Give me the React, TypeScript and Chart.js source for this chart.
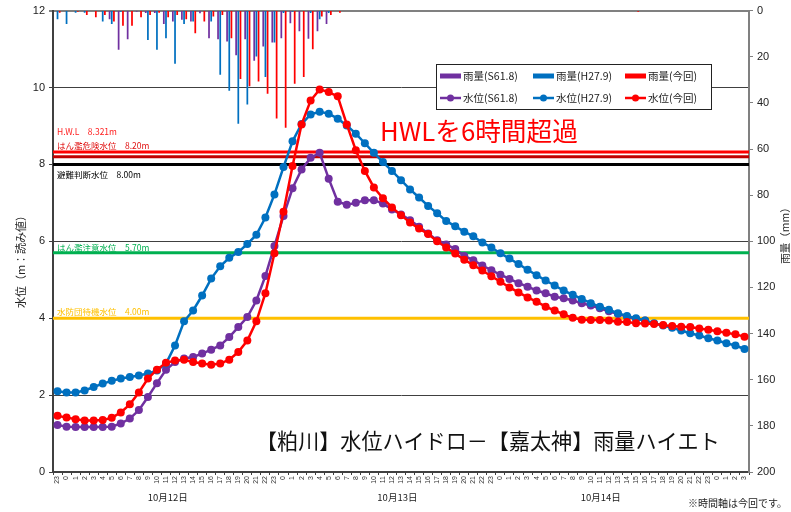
import { useEffect, useRef } from 'react';
import { Chart, registerables } from 'chart.js';

Chart.register(...registerables);

// ---------- data ----------
const hourLabels: string[] = [
  '23',
  ...Array.from({ length: 24 }, (_, h) => String(h)),
  ...Array.from({ length: 24 }, (_, h) => String(h)),
  ...Array.from({ length: 24 }, (_, h) => String(h)),
  '0', '1', '2', '3',
];

const dateLabels = ['10月12日', '10月13日', '10月14日'];
const dateLabelIndex = [12.2, 37.6, 60.1];

const seriesNames = ['S61.8', 'H27.9', '今回'];
const seriesColors = ['#7030A0', '#0070C0', '#FF0000'];

// water level (m)
const levelS61: (number | null)[] = [
  1.22, 1.18, 1.17, 1.17, 1.17, 1.17, 1.18, 1.26, 1.39, 1.61, 1.95, 2.31, 2.66, 2.86, 2.95, 2.99,
  3.08, 3.18, 3.29, 3.51, 3.77, 4.03, 4.46, 5.1, 5.88, 6.66, 7.38, 7.87, 8.17, 8.3, 7.63, 7.03,
  6.95, 7.0, 7.07, 7.07, 6.98, 6.83, 6.7, 6.55, 6.38, 6.2, 6.03, 5.92, 5.8, 5.62, 5.51, 5.37,
  5.25, 5.13, 5.02, 4.91, 4.82, 4.72, 4.65, 4.56, 4.52, 4.46, 4.39, 4.33, 4.26, 4.18, 4.11, 4.04,
  3.98, 3.94, null, null, null, null, null, null, null, null, null, null, null,
];
const levelH27: number[] = [
  2.1, 2.07, 2.07, 2.12, 2.21, 2.3, 2.37, 2.43, 2.47, 2.51, 2.56, 2.64, 2.82, 3.29, 3.92, 4.2,
  4.59, 5.03, 5.35, 5.57, 5.72, 5.93, 6.17, 6.62, 7.22, 7.93, 8.6, 9.05, 9.3, 9.37, 9.32, 9.19,
  9.01, 8.8, 8.55, 8.3, 8.06, 7.83, 7.59, 7.35, 7.14, 6.92, 6.73, 6.53, 6.39, 6.25, 6.13, 5.97,
  5.84, 5.69, 5.55, 5.41, 5.26, 5.12, 4.98, 4.85, 4.72, 4.61, 4.5, 4.39, 4.3, 4.22, 4.13, 4.06,
  4.0, 3.94, 3.87, 3.81, 3.75, 3.68, 3.61, 3.55, 3.48, 3.42, 3.35, 3.29, 3.2,
];
const levelNow: number[] = [
  1.46, 1.42, 1.37, 1.34, 1.34, 1.35, 1.41, 1.55, 1.76, 2.07, 2.43, 2.66, 2.84, 2.9, 2.92, 2.86,
  2.82, 2.79, 2.82, 2.92, 3.12, 3.42, 3.92, 4.65, 5.69, 6.77, 7.96, 9.04, 9.66, 9.95, 9.88, 9.77,
  9.04, 8.37, 7.83, 7.4, 7.12, 6.88, 6.68, 6.49, 6.33, 6.19, 6.0, 5.84, 5.68, 5.52, 5.38, 5.24,
  5.09, 4.95, 4.8, 4.67, 4.54, 4.43, 4.3, 4.2, 4.1, 4.01, 3.96, 3.95, 3.95, 3.94, 3.91, 3.9,
  3.87, 3.86, 3.85, 3.82, 3.8, 3.78, 3.77, 3.73, 3.7, 3.66, 3.62, 3.58, 3.52,
];

// rainfall (mm)
const rainS61: number[] = [
  0, 0, 0, 0, 0, 0, 3.7, 17, 12.4, 0.5, 1, 1, 5.8, 4.75, 4, 4.75,
  1.2, 12, 12.4, 13.4, 19.4, 12.4, 21.7, 15.6, 13.8, 12, 5.5, 9, 12.2, 9, 5.8, 0,
  0, 0, 0, 0, 0, 0, 0, 0, 0, 0, 0, 0, 0, 0, 0, 0,
  0, 0, 0, 0, 0, 0, 0, 0, 0, 0, 0, 0, 0, 0, 0, 0,
  0, 0, 0, 0, 0, 0, 0, 0, 0, 0, 0, 0, 0,
];
const rainH27: number[] = [
  3.7, 5.8, 0.9, 0.9, 0, 4.75, 5.8, 0.5, 0, 0, 12.7, 17, 12, 23, 5.8, 4.75,
  0, 4.75, 27.8, 34.7, 49, 40.7, 19.9, 28.8, 13.8, 1, 0.5, 0, 1, 3.7, 1, 0,
  0, 0, 0, 0, 0, 0, 0, 0, 0, 0, 0, 0, 0, 0, 0, 0,
  0, 0, 0, 0, 0, 0, 0, 0, 0, 0, 0, 0, 0, 0, 0, 0,
  0, 0, 0, 0, 0, 0, 0, 0, 0, 0, 0, 0, 0,
];
const rainNow: number[] = [
  0.9, 0, 0.5, 1.9, 2.9, 1.9, 4.75, 6.6, 6.6, 2.9, 1.9, 0.9, 2.9, 1.9, 3.7, 9.8,
  4.75, 2.6, 1.9, 12, 29.7, 32.8, 30.7, 36, 46.8, 50.8, 31.7, 28.8, 16.7, 2.6, 1.9, 0.9,
  0, 0, 0, 0, 0, 0, 0, 0, 0, 0, 0, 0, 0, 0, 0, 0,
  0, 0, 0, 0, 0, 0, 0, 0, 0, 0, 0, 0, 0, 0, 0, 0,
  0.5, 0, 0, 0, 0, 0, 0, 0, 0, 0, 0, 0, 0,
];

// reference levels
const thresholdValues = [8.321, 8.2, 8.0, 5.7, 4.0];
const thresholdLabels = ['H.W.L　8.321m', 'はん濫危険水位　8.20m', '避難判断水位　8.00m', 'はん濫注意水位　5.70m', '水防団待機水位　4.00m'];
const thresholdColors = ['#FF0000', '#C00000', '#000000', '#00B050', '#FFC000'];
const thresholdTextColors = ['#FF2020', '#E01010', '#000000', '#00B050', '#FFC000'];
const thresholdTextOffset = [-20, -11, 10, -5.5, -6.5];

const chartTitle = '【粕川】水位ハイドロ－【嘉太神】雨量ハイエト';
const noteText = 'HWLを6時間超過';
const footNote = '※時間軸は今回です。';
const leftAxisTitle = '水位（m：読み値）';
const rightAxisTitle = '雨量（mm）';

const JP = '"Noto Sans CJK JP", "Noto Sans", sans-serif';
const NUM = '"Liberation Sans", Arial, sans-serif';

const overlayPlugin = {
  id: 'overlay',
  beforeDatasetsDraw(chart: any) {
    const { ctx, chartArea } = chart;
    const y = chart.scales.y;
    ctx.save();
    thresholdValues.forEach((v, i) => {
      const py = y.getPixelForValue(v);
      ctx.strokeStyle = thresholdColors[i];
      ctx.lineWidth = 3;
      ctx.beginPath();
      ctx.moveTo(chartArea.left, py);
      ctx.lineTo(chartArea.right, py);
      ctx.stroke();
      ctx.fillStyle = thresholdTextColors[i];
      ctx.font = `8.5px ${JP}`;
      ctx.textBaseline = 'middle';
      ctx.textAlign = 'left';
      ctx.fillText(thresholdLabels[i], chartArea.left + 4, py + thresholdTextOffset[i]);
    });
    ctx.restore();
  },
  afterDraw(chart: any) {
    const { ctx } = chart;
    const x = chart.scales.x;
    ctx.save();
    // date labels
    ctx.fillStyle = '#222';
    ctx.font = `9.5px ${JP}`;
    ctx.textAlign = 'center';
    ctx.textBaseline = 'middle';
    dateLabels.forEach((d, i) => {
      const idx = dateLabelIndex[i];
      const a = Math.floor(idx);
      const px = x.getPixelForValue(a) + (x.getPixelForValue(a + 1) - x.getPixelForValue(a)) * (idx - a);
      ctx.fillText(d, px, 497);
    });
    ctx.textAlign = 'left';
    ctx.font = `10px ${JP}`;
    ctx.fillText(footNote, 688, 503);

    // axis titles
    ctx.font = `11px ${JP}`;
    ctx.fillStyle = '#222';
    ctx.textAlign = 'center';
    ctx.save();
    ctx.translate(21, 259);
    ctx.rotate(-Math.PI / 2);
    ctx.fillText(leftAxisTitle, 0, 0);
    ctx.restore();
    ctx.font = `10.5px ${JP}`;
    ctx.save();
    ctx.translate(785, 233);
    ctx.rotate(-Math.PI / 2);
    ctx.fillText(rightAxisTitle, 0, 0);
    ctx.restore();

    // big title
    ctx.fillStyle = '#111';
    ctx.textAlign = 'left';
    let fs = 20;
    ctx.font = `${fs}px ${JP}`;
    fs = fs * 464 / ctx.measureText(chartTitle).width;
    ctx.font = `${fs}px ${JP}`;
    ctx.fillText(chartTitle, 256, 441);

    // note
    ctx.fillStyle = '#FF0000';
    fs = 25;
    ctx.font = `${fs}px ${JP}`;
    fs = fs * 198 / ctx.measureText(noteText).width;
    ctx.font = `${fs}px ${JP}`;
    ctx.fillText(noteText, 380, 131);

    // legend
    const lx = 436, ly = 64, lw = 275, lh = 45;
    ctx.fillStyle = '#fff';
    ctx.fillRect(lx, ly, lw, lh);
    ctx.strokeStyle = '#222';
    ctx.lineWidth = 1;
    ctx.strokeRect(lx + 0.5, ly + 0.5, lw, lh);
    const colX = [440, 533, 625];
    const rowY = [76, 98];
    ctx.font = `10.5px ${JP}`;
    ctx.textBaseline = 'middle';
    seriesNames.forEach((n, i) => {
      const cx = colX[i];
      ctx.strokeStyle = seriesColors[i];
      ctx.lineWidth = 5;
      ctx.beginPath();
      ctx.moveTo(cx, rowY[0]);
      ctx.lineTo(cx + 21, rowY[0]);
      ctx.stroke();
      ctx.fillStyle = '#222';
      ctx.fillText(`雨量(${n})`, cx + 23, rowY[0]);
      ctx.lineWidth = 2.5;
      ctx.beginPath();
      ctx.moveTo(cx, rowY[1]);
      ctx.lineTo(cx + 21, rowY[1]);
      ctx.stroke();
      ctx.fillStyle = seriesColors[i];
      ctx.beginPath();
      ctx.arc(cx + 10.5, rowY[1], 3.5, 0, Math.PI * 2);
      ctx.fill();
      ctx.fillStyle = '#222';
      ctx.fillText(`水位(${n})`, cx + 23, rowY[1]);
    });
    ctx.restore();
  },
};

export default function App() {
  const ref = useRef<HTMLCanvasElement>(null);
  useEffect(() => {
    const levels = [levelS61, levelH27, levelNow];
    const rains = [rainS61, rainH27, rainNow];
    const chart = new Chart(ref.current!, {
      type: 'bar',
      data: {
        labels: hourLabels,
        datasets: [
          ...levels.map((d, i) => ({
            type: 'line' as const,
            label: `水位(${seriesNames[i]})`,
            data: d,
            yAxisID: 'y',
            borderColor: seriesColors[i],
            backgroundColor: seriesColors[i],
            borderWidth: 2.5,
            pointRadius: 4,
            pointBorderWidth: 0,
            pointBackgroundColor: seriesColors[i],
            tension: 0,
            spanGaps: false,
            order: 3 - i,
          })),
          ...rains.map((d, i) => ({
            type: 'bar' as const,
            label: `雨量(${seriesNames[i]})`,
            data: d,
            yAxisID: 'y2',
            backgroundColor: seriesColors[i],
            borderWidth: 0,
            categoryPercentage: 0.72,
            barPercentage: 0.8,
            order: 10,
          })),
        ],
      },
      options: {
        responsive: false,
        animation: false,
        devicePixelRatio: 1,
        layout: { padding: { top: 9, left: 0, right: 0, bottom: 0 } },
        plugins: { legend: { display: false }, tooltip: { enabled: false } },
        scales: {
          x: {
            type: 'category',
            offset: true,
            grid: { drawOnChartArea: false, drawTicks: true, tickLength: 3, color: '#404040', offset: true },
            border: { display: true, color: '#404040', width: 2 },
            ticks: {
              autoSkip: false,
              minRotation: 90,
              maxRotation: 90,
              padding: 1,
              color: '#333',
              font: { size: 7, family: NUM },
            },
            afterFit: (s: any) => { s.height = 40; },
          },
          y: {
            position: 'left',
            min: 0,
            max: 12,
            ticks: { stepSize: 2, color: '#222', padding: 4, font: { size: 11, family: NUM } },
            grid: {
              color: (c: any) => (c.tick && c.tick.value === 12 ? '#808080' : '#404040'),
              lineWidth: (c: any) => (c.tick && c.tick.value === 12 ? 2 : 1),
              tickLength: 4,
            },
            border: { color: '#404040', width: 2 },
            afterFit: (s: any) => { s.width = 53; },
          },
          y2: {
            position: 'right',
            reverse: true,
            min: 0,
            max: 200,
            ticks: { stepSize: 20, color: '#222', padding: 4, font: { size: 11, family: NUM } },
            grid: { drawOnChartArea: false, tickLength: 4, color: '#808080' },
            border: { color: '#808080', width: 2 },
            afterFit: (s: any) => { s.width = 42; },
          },
        },
      },
      plugins: [overlayPlugin],
    });
    return () => chart.destroy();
  }, []);
  return (
    <div style={{ position: 'absolute', left: 0, top: 0, width: 791, height: 512, background: '#fff' }}>
      <canvas ref={ref} width={791} height={512} style={{ width: 791, height: 512, display: 'block' }} />
    </div>
  );
}
